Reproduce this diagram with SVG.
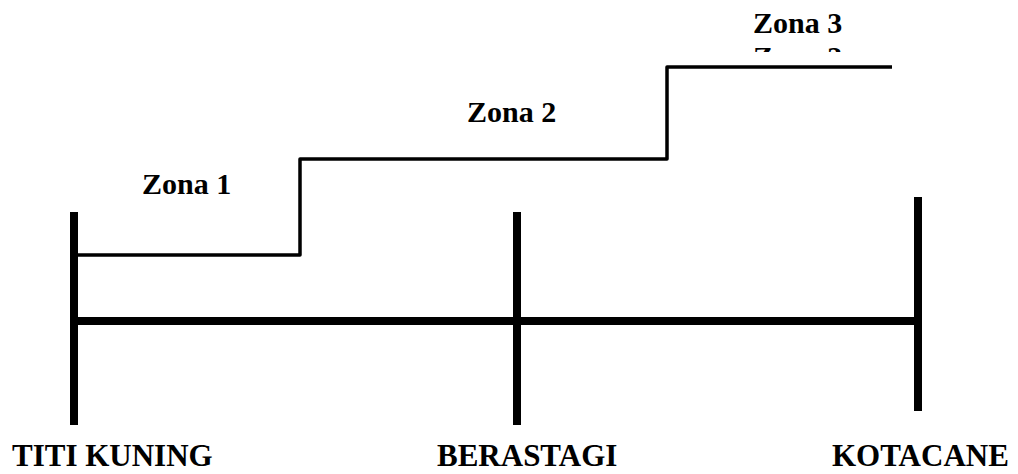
<svg xmlns="http://www.w3.org/2000/svg" width="1018" height="474" viewBox="0 0 1018 474">
<style>
.lbl{font-family:"Liberation Serif","Times New Roman",serif;font-weight:bold;font-size:30px;fill:#000}
.city{font-size:31px}
.post{stroke:#000;stroke-width:8;fill:none}
.main{stroke:#000;stroke-width:8;fill:none}
.stair{stroke:#000;stroke-width:3.5;fill:none;stroke-linejoin:round}
</style>
<defs>
<clipPath id="slice"><rect x="740" y="45.5" width="120" height="6.5"/></clipPath>
</defs>
<rect width="1018" height="474" fill="#fff"/>
<g id="connectors">
<line class="main" x1="74" y1="321" x2="918" y2="321"/>
<path class="stair" d="M78,255 H300 V159 H667 V67 H892"/>
</g>
<g id="titi-kuning">
<line class="post" x1="74" y1="212" x2="74" y2="425"/>
<text class="lbl city" x="12" y="466">TITI KUNING</text>
</g>
<g id="berastagi">
<line class="post" x1="517" y1="212" x2="517" y2="425"/>
<text class="lbl city" x="437" y="466">BERASTAGI</text>
</g>
<g id="kotacane">
<line class="post" x1="918" y1="197" x2="918" y2="411"/>
<text class="lbl city" x="832" y="466">KOTACANE</text>
</g>
<g id="zona-1">
<text class="lbl" x="142" y="194">Zona 1</text>
</g>
<g id="zona-2">
<text class="lbl" x="467" y="122">Zona 2</text>
</g>
<g id="zona-3">
<text class="lbl" x="753" y="33">Zona 3</text>
<text class="lbl" x="753" y="67" clip-path="url(#slice)">Zona 3</text>
</g>
</svg>
